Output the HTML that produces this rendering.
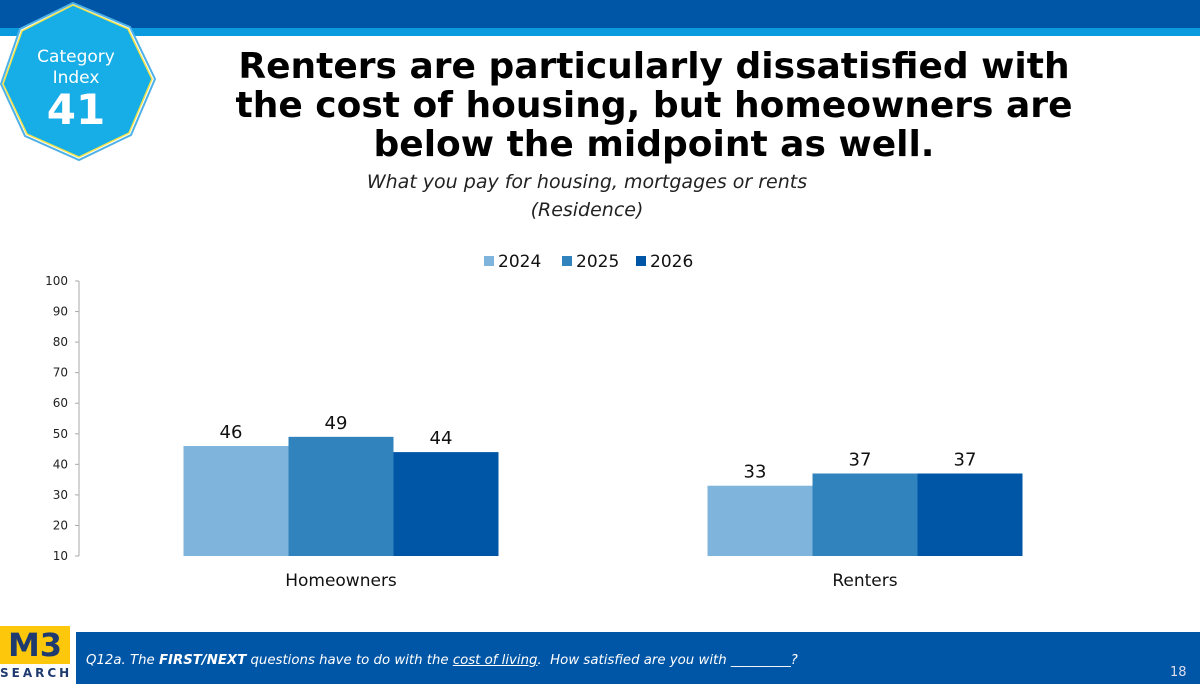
<!DOCTYPE html>
<html><head><meta charset="utf-8">
<style>
body{margin:0;width:1200px;height:684px;overflow:hidden;background:#fff;font-family:"Liberation Sans","DejaVu Sans",sans-serif;position:relative}
.abs{position:absolute}
</style></head>
<body>
<div class="abs" style="left:0;top:0;width:1200px;height:28px;background:#0056a6"></div>
<div class="abs" style="left:0;top:28px;width:1200px;height:8px;background:#0d9be0"></div>
<svg class="abs" style="left:0;top:0" width="160" height="162">
<polygon points="73,3 130,27 155,79 131,135 79,160 25,136 1,84 20,29" fill="#ffffff" stroke="#4db0e8" stroke-width="2"/>
<polygon points="73,5 128,29 152,79 129,133 79,157 27,134 3,84 22,31" fill="#17ade6" stroke="#f2e34a" stroke-width="1.5"/>
<text x="76" y="62" text-anchor="middle" font-size="17" fill="#fff" font-family="DejaVu Sans,sans-serif">Category</text>
<text x="76" y="83" text-anchor="middle" font-size="17" fill="#fff" font-family="DejaVu Sans,sans-serif">Index</text>
<text x="76" y="124" text-anchor="middle" font-size="42" font-weight="bold" fill="#fff" font-family="DejaVu Sans,sans-serif">41</text>
</svg>
<div class="abs" style="left:224px;top:47px;width:860px;text-align:center;font-family:'DejaVu Sans',sans-serif;font-weight:bold;font-size:36px;line-height:39px;color:#000">Renters are particularly dissatisfied with the cost of housing, but homeowners are below the midpoint as well.</div>
<div class="abs" style="left:260px;top:168px;width:654px;text-align:center;font-family:'DejaVu Sans',sans-serif;font-style:italic;font-size:19px;line-height:28px;color:#222">What you pay for housing, mortgages or rents<br>(Residence)</div>

<svg id="chart" class="abs" style="left:0;top:240px" width="1200" height="360"></svg>

<div class="abs" style="left:0;top:626px;width:70px;height:38px;background:#fdc80b;color:#1e3a6e;font-family:'DejaVu Sans',sans-serif;font-weight:bold;font-size:32px;line-height:38px;text-align:center">M3</div>
<div class="abs" style="left:0;top:666px;width:72px;font-family:'DejaVu Sans',sans-serif;font-weight:bold;font-size:12px;letter-spacing:3px;color:#1e3a6e">SEARCH</div>
<div class="abs" style="left:76px;top:632px;width:1124px;height:52px;background:#0056a6"></div>
<div class="abs" style="left:86px;top:653px;font-family:'DejaVu Sans',sans-serif;font-style:italic;font-size:13.3px;color:#fff">Q12a. The <b>FIRST/NEXT</b> questions have to do with the <u>cost of living</u>.&nbsp; How satisfied are you with _________?</div>
<div class="abs" style="left:1170px;top:665px;font-family:'DejaVu Sans',sans-serif;font-size:13px;color:#dde">18</div>

<script>
const categories = ["Homeowners", "Renters"];
const seriesNames = ["2024", "2025", "2026"];
const v2024 = [46, 33];
const v2025 = [49, 37];
const v2026 = [44, 37];
const yTicks = [10, 20, 30, 40, 50, 60, 70, 80, 90, 100];

const svg = document.getElementById('chart');
const NS = 'http://www.w3.org/2000/svg';
const colors = ['#7fb4dc', '#3183be', '#0056a6'];
const series = [v2024, v2025, v2026];
const x0 = 79, x1 = 1127, yTop = 41, yBot = 316, vMin = 10, vMax = 100;
const yScale = v => yBot - (v - vMin) / (vMax - vMin) * (yBot - yTop);
const catW = (x1 - x0) / categories.length;
const barW = 105;
function mk(tag, attrs) { const e = document.createElementNS(NS, tag); for (const k in attrs) e.setAttribute(k, attrs[k]); svg.appendChild(e); return e; }

let ax = mk('line', { x1: x0, y1: yTop, x2: x0, y2: yBot, stroke: '#aaa', 'stroke-width': 1 });


yTicks.forEach(t => {
  const y = yScale(t);
  let tk = mk('line', { x1: x0 - 4, y1: y, x2: x0, y2: y, stroke: '#aaa' });
  
  
  let tl = mk('text', { x: x0 - 11, y: y + 4, 'text-anchor': 'end', 'font-size': 12, fill: '#222', 'font-family': 'DejaVu Sans,sans-serif' });
  tl.textContent = t;
  
  
});

categories.forEach((c, i) => {
  const cx = x0 + catW * (i + 0.5);
  const gx = cx - barW * series.length / 2;
  series.forEach((s, j) => {
    const y = yScale(s[i]);
    let r = mk('rect', { x: gx + j * barW, y: y, width: barW, height: yBot - y, fill: colors[j] });
    
    
    let lb = mk('text', { x: gx + j * barW + barW / 2 - 5, y: y - 8, 'text-anchor': 'middle', 'font-size': 18, fill: '#111', 'font-family': 'DejaVu Sans,sans-serif' });
    lb.textContent = s[i];
    
    
  });
  let cl = mk('text', { x: cx, y: yBot + 30, 'text-anchor': 'middle', 'font-size': 17, fill: '#111', 'font-family': 'DejaVu Sans,sans-serif' });
  cl.textContent = c;
  
  
});

const legX = [484, 562, 636];
seriesNames.forEach((n, j) => {
  let sw = mk('rect', { x: legX[j], y: 16, width: 10, height: 10, fill: colors[j] });
  
  
  let lt = mk('text', { x: legX[j] + 14, y: 27, 'font-size': 17, fill: '#111', 'font-family': 'DejaVu Sans,sans-serif' });
  lt.textContent = n;
  
  
});
</script>
</body></html>
